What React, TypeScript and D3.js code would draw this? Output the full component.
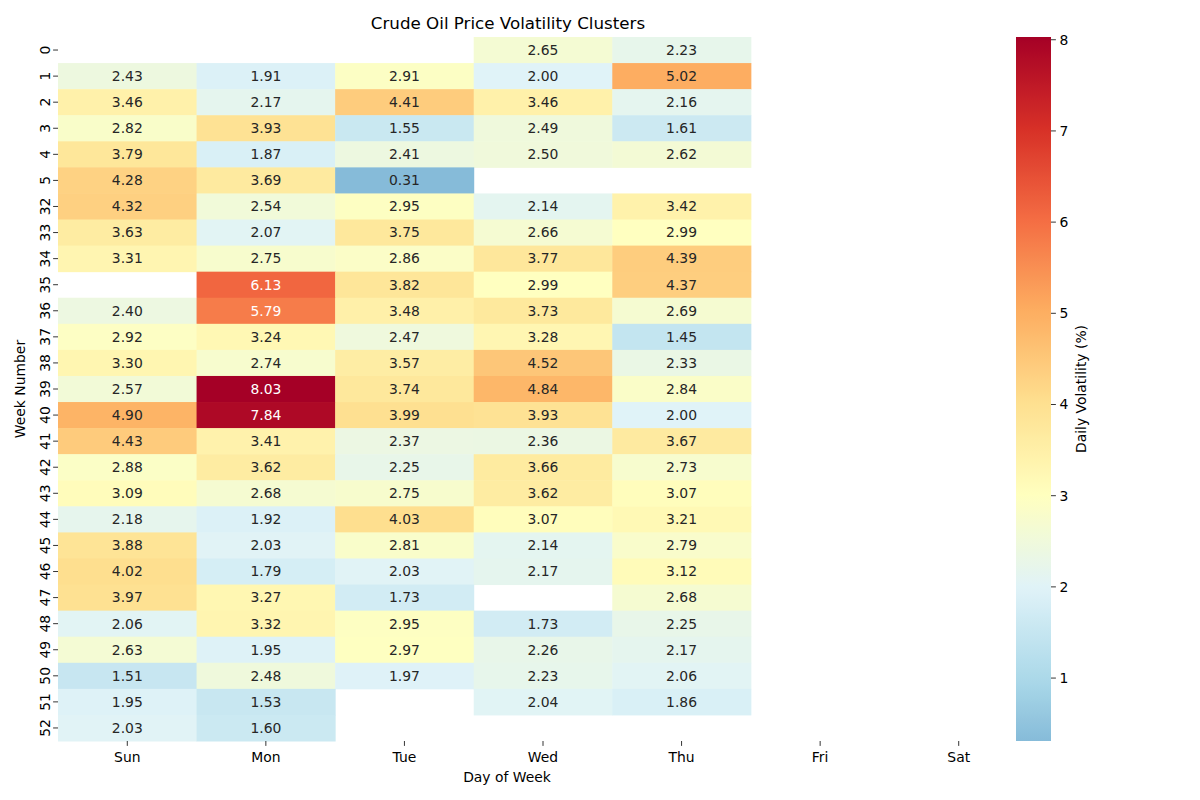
import React from "react";
import * as d3 from "d3";

const days = ["Sun", "Mon", "Tue", "Wed", "Thu", "Fri", "Sat"];
const weeks = ["0", "1", "2", "3", "4", "5", "32", "33", "34", "35", "36", "37", "38", "39", "40", "41", "42", "43", "44", "45", "46", "47", "48", "49", "50", "51", "52"];
const N = null;
// values per week row: Sun..Sat
const volatility: (number | null)[][] = [
  [N, N, N, 2.65, 2.23, N, N],
  [2.43, 1.91, 2.91, 2.0, 5.02, N, N],
  [3.46, 2.17, 4.41, 3.46, 2.16, N, N],
  [2.82, 3.93, 1.55, 2.49, 1.61, N, N],
  [3.79, 1.87, 2.41, 2.5, 2.62, N, N],
  [4.28, 3.69, 0.31, N, N, N, N],
  [4.32, 2.54, 2.95, 2.14, 3.42, N, N],
  [3.63, 2.07, 3.75, 2.66, 2.99, N, N],
  [3.31, 2.75, 2.86, 3.77, 4.39, N, N],
  [N, 6.13, 3.82, 2.99, 4.37, N, N],
  [2.4, 5.79, 3.48, 3.73, 2.69, N, N],
  [2.92, 3.24, 2.47, 3.28, 1.45, N, N],
  [3.3, 2.74, 3.57, 4.52, 2.33, N, N],
  [2.57, 8.03, 3.74, 4.84, 2.84, N, N],
  [4.9, 7.84, 3.99, 3.93, 2.0, N, N],
  [4.43, 3.41, 2.37, 2.36, 3.67, N, N],
  [2.88, 3.62, 2.25, 3.66, 2.73, N, N],
  [3.09, 2.68, 2.75, 3.62, 3.07, N, N],
  [2.18, 1.92, 4.03, 3.07, 3.21, N, N],
  [3.88, 2.03, 2.81, 2.14, 2.79, N, N],
  [4.02, 1.79, 2.03, 2.17, 3.12, N, N],
  [3.97, 3.27, 1.73, N, 2.68, N, N],
  [2.06, 3.32, 2.95, 1.73, 2.25, N, N],
  [2.63, 1.95, 2.97, 2.26, 2.17, N, N],
  [1.51, 2.48, 1.97, 2.23, 2.06, N, N],
  [1.95, 1.53, N, 2.04, 1.86, N, N],
  [2.03, 1.6, N, N, N, N, N],
];
const colorbarTicks = [1, 2, 3, 4, 5, 6, 7, 8];

const RdYlBu_r = ["#313695", "#4575b4", "#74add1", "#abd9e9", "#e0f3f8", "#ffffbf", "#fee090", "#fdae61", "#f46d43", "#d73027", "#a50026"];
const cmap = d3.scaleLinear<string>().domain(d3.range(11).map((i) => i / 10)).range(RdYlBu_r).interpolate(d3.interpolateRgb).clamp(true);

const allVals = volatility.flat().filter((v): v is number => v != null);
const vmin = d3.min(allVals)!;
const vmax = d3.max(allVals)!;
const center = 3;
const vr = Math.max(vmax - center, center - vmin);
const colorOf = (v: number) => cmap((v - (center - vr)) / (2 * vr));

function lum(c: string) {
  const rgb = d3.rgb(c);
  const f = (x: number) => {
    x = x / 255;
    return x <= 0.03928 ? x / 12.92 : Math.pow((x + 0.055) / 1.055, 2.4);
  };
  return 0.2126 * f(rgb.r) + 0.7152 * f(rgb.g) + 0.0722 * f(rgb.b);
}

const L = 58, R = 1028, T = 37, B = 741;
const cbX = 1016, cbW = 35;
const font = "DejaVu Sans, sans-serif";

export default function App() {
  const x = d3.scaleBand().domain(days).range([L, R]);
  const y = d3.scaleBand().domain(weeks).range([T, B]);
  const cy = d3.scaleLinear().domain([vmin, vmax]).range([B, T]);
  const stops = d3.range(0, 101).map((i) => {
    const v = vmin + ((vmax - vmin) * i) / 100;
    return { off: i, c: colorOf(v) };
  });
  return (
    <svg width={1200} height={800} style={{ display: "block", position: "absolute", left: 0, top: 0 }} fontFamily={font}>
      <defs>
        <linearGradient id="cb" x1="0" y1="1" x2="0" y2="0">
          {stops.map((s) => (
            <stop key={s.off} offset={`${s.off}%`} stopColor={s.c} />
          ))}
        </linearGradient>
      </defs>
      <rect width={1200} height={800} fill="white" />
      {volatility.map((row, i) =>
        row.map((v, j) => {
          if (v == null) return null;
          const c = colorOf(v);
          const xx = x(days[j])!;
          const yy = y(weeks[i])!;
          return (
            <g key={`${i}-${j}`}>
              <rect x={xx} y={yy} width={x.bandwidth() + 0.5} height={y.bandwidth() + 0.5} fill={c} />
              <text x={xx + x.bandwidth() / 2} y={yy + y.bandwidth() / 2} dy="0.35em" textAnchor="middle" fontSize={13.9} fill={lum(c) > 0.408 ? "#262626" : "#ffffff"}>
                {v.toFixed(2)}
              </text>
            </g>
          );
        })
      )}
      {/* x axis */}
      {days.map((d) => {
        const cx = x(d)! + x.bandwidth() / 2;
        return (
          <g key={d}>
            <line x1={cx} x2={cx} y1={B} y2={B + 4.9} stroke="black" strokeWidth={0.8} />
            <text x={cx} y={B + 21} textAnchor="middle" fontSize={13.9} fill="black">{d}</text>
          </g>
        );
      })}
      {/* y axis */}
      {weeks.map((w) => {
        const cyy = y(w)! + y.bandwidth() / 2;
        return (
          <g key={w}>
            <line x1={L - 4.9} x2={L} y1={cyy} y2={cyy} stroke="black" strokeWidth={0.8} />
            <text transform={`translate(${L - 8.5},${cyy}) rotate(-90)`} textAnchor="middle" fontSize={13.9} fill="black">{w}</text>
          </g>
        );
      })}
      <text x={(L + R) / 2 - 36} y={782} textAnchor="middle" fontSize={13.9} fill="black">Day of Week</text>
      <text transform={`translate(25,${(T + B) / 2}) rotate(-90)`} textAnchor="middle" fontSize={13.9} fill="black">Week Number</text>
      <text x={508} y={29} textAnchor="middle" fontSize={16.7} fill="black">Crude Oil Price Volatility Clusters</text>
      {/* colorbar */}
      <rect x={cbX} y={T} width={cbW} height={B - T} fill="url(#cb)" />
      {colorbarTicks.map((t) => (
        <g key={t}>
          <line x1={cbX + cbW} x2={cbX + cbW + 4.9} y1={cy(t)} y2={cy(t)} stroke="black" strokeWidth={0.8} />
          <text x={cbX + cbW + 8.5} y={cy(t)} dy="0.35em" fontSize={13.9} fill="black">{t}</text>
        </g>
      ))}
      <text transform={`translate(1086,${(T + B) / 2}) rotate(-90)`} textAnchor="middle" fontSize={13.9} fill="black">Daily Volatility (%)</text>
    </svg>
  );
}
